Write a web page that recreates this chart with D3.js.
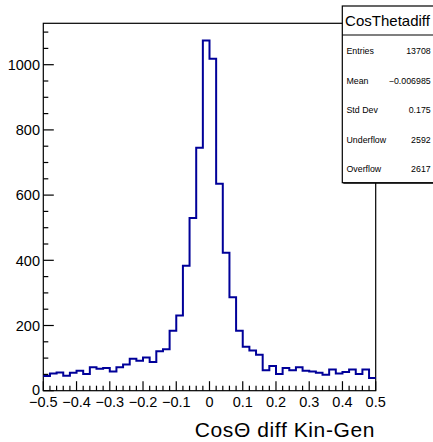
<!DOCTYPE html>
<html>
<head>
<meta charset="utf-8">
<script src="https://cdn.jsdelivr.net/npm/d3@7"></script>
<style>
  html, body { margin: 0; padding: 0; background: #fff; }
  svg { display: block; }
  text { font-family: "Liberation Sans", Arial, Helvetica, sans-serif; fill: #000; }
</style>
</head>
<body>
<svg id="c" width="433" height="442"></svg>
<script>
// ---- data ----
const binLow = -0.5;
const binWidth = 0.02;
const counts = [
  45, 53, 56, 46, 55, 61, 51, 72, 67, 70,
  59, 72, 80, 98, 92, 102, 88, 121, 127, 184,
  231, 383, 530, 745, 1074, 1018, 635, 423, 287, 184,
  135, 123, 110, 63, 76, 51, 70, 63, 72, 61,
  59, 55, 49, 65, 53, 57, 65, 51, 65, 39
];
const xTickValues = [-0.5, -0.4, -0.3, -0.2, -0.1, 0, 0.1, 0.2, 0.3, 0.4, 0.5];
const xTickLabels = ["\u22120.5", "\u22120.4", "\u22120.3", "\u22120.2", "\u22120.1", "0", "0.1", "0.2", "0.3", "0.4", "0.5"];
const yTickValues = [0, 200, 400, 600, 800, 1000];
const yTickLabels = ["0", "200", "400", "600", "800", "1000"];
const statsTitle = "CosThetadiff";
const statsNames = ["Entries", "Mean", "Std Dev", "Underflow", "Overflow"];
const statsValues = ["13708", "\u22120.006985", "0.175", "2592", "2617"];
const xTitle = "Cos\u0398 diff Kin-Gen";

// ---- layout ----
const L = 43.3, R = 375.7, T = 23.3, B = 390.7;
const yMax = 1127;
const svg = d3.select("#c");

const x = d3.scaleLinear().domain([-0.5, 0.5]).range([L, R]);
const y = d3.scaleLinear().domain([0, yMax]).range([B, T]);

// frame
svg.append("rect").attr("x", L).attr("y", T).attr("width", R - L).attr("height", B - T)
  .attr("fill", "none").attr("stroke", "#000").attr("stroke-width", 1.2);

// histogram path (steps)
let d = "";
counts.forEach((c, i) => {
  const x0 = x(binLow + i * binWidth), x1 = x(binLow + (i + 1) * binWidth);
  d += (i === 0 ? "M" : "L") + x0 + "," + y(c) + "L" + x1 + "," + y(c);
});
svg.append("path").attr("d", d).attr("fill", "none")
  .attr("stroke", "#000099").attr("stroke-width", 2).attr("stroke-linejoin", "miter");

// x axis ticks (upward)
const xMinor = d3.range(0, 51).map(i => -0.5 + i * 0.02);
const gx = svg.append("g");
xMinor.forEach(v => {
  const major = Math.abs(Math.round(v * 10) - v * 10) < 1e-6;
  gx.append("line").attr("x1", x(v)).attr("x2", x(v))
    .attr("y1", B).attr("y2", B - (major ? 9.5 : 5))
    .attr("stroke", "#000").attr("stroke-width", 1.2);
});
xTickValues.forEach((v, i) => {
  gx.append("text").attr("x", x(v)).attr("y", 407.3)
    .attr("text-anchor", "middle").attr("font-size", "14.5px").text(xTickLabels[i]);
});

// y axis ticks (rightward)
const yMinor = d3.range(0, yMax, 50);
const gy = svg.append("g");
yMinor.forEach(v => {
  const major = v % 200 === 0;
  gy.append("line").attr("x1", L).attr("x2", L + (major ? 10.5 : 5))
    .attr("y1", y(v)).attr("y2", y(v))
    .attr("stroke", "#000").attr("stroke-width", 1.2);
});
yTickValues.forEach((v, i) => {
  gy.append("text").attr("x", 40).attr("y", y(v) + (v === 0 ? 3.8 : 5.2))
    .attr("text-anchor", "end").attr("font-size", "14.5px").text(yTickLabels[i]);
});

// x title
svg.append("text").attr("x", 375).attr("y", 437.3).attr("text-anchor", "end")
  .attr("font-size", "21px").attr("letter-spacing", "0.6px").text(xTitle);

// stats box
const sx0 = 342.3, sx1 = 434, sy0 = 6, sy1 = 35, sy2 = 182.7;
svg.append("rect").attr("x", sx0 + 1).attr("y", sy0 + 1).attr("width", sx1 - sx0).attr("height", sy2 - sy0)
  .attr("fill", "#000");
svg.append("rect").attr("x", sx0).attr("y", sy0).attr("width", sx1 - sx0).attr("height", sy2 - sy0)
  .attr("fill", "#fff").attr("stroke", "#000").attr("stroke-width", 1.2);
svg.append("line").attr("x1", sx0).attr("x2", sx1).attr("y1", sy1).attr("y2", sy1)
  .attr("stroke", "#000").attr("stroke-width", 1.2);
svg.append("text").attr("x", 387.5).attr("y", 26.3).attr("text-anchor", "middle")
  .attr("font-size", "15px").text(statsTitle);
const rowH = (sy2 - sy1) / statsNames.length;
statsNames.forEach((n, i) => {
  const cy = sy1 + rowH * (i + 0.5) + 1;
  svg.append("text").attr("x", 346.5).attr("y", cy + 3.2).attr("font-size", "8.8px").text(n);
  svg.append("text").attr("x", 430.7).attr("y", cy + 3.2).attr("text-anchor", "end")
    .attr("font-size", "8.8px").text(statsValues[i]);
});
</script>
</body>
</html>
